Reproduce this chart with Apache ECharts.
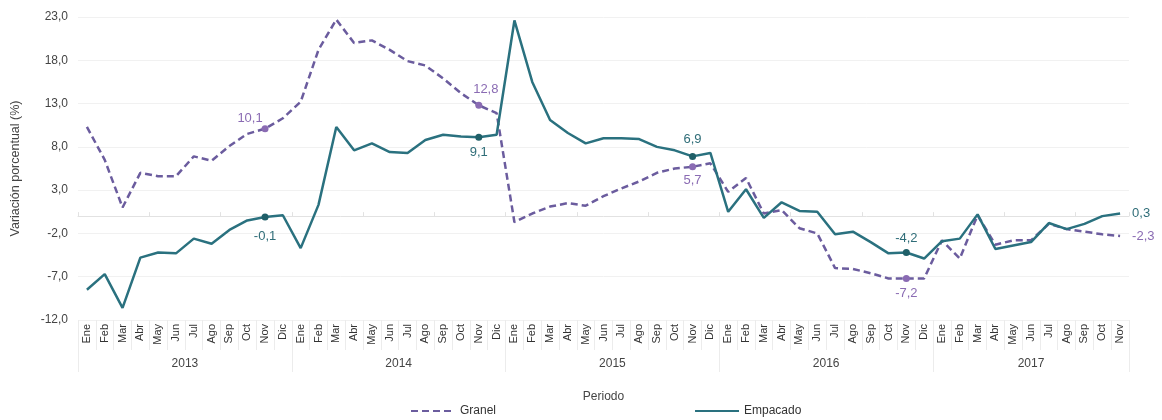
<!DOCTYPE html>
<html><head><meta charset="utf-8">
<script src="https://cdn.jsdelivr.net/npm/echarts@6/dist/echarts.min.js"></script>
<style>html,body{margin:0;padding:0;background:#fff}#c{width:1162px;height:420px}</style>
</head><body><div id="c"></div>
<script>
const years = ['2013', '2014', '2015', '2016', '2017'];
const monthsPerYear = [12, 12, 12, 12, 11];
const months = ['Ene','Feb','Mar','Abr','May','Jun','Jul','Ago','Sep','Oct','Nov','Dic'];

const granel = [
  10.3, 6.5, 1.0, 5.0, 4.6, 4.6, 6.9, 6.4, 8.1, 9.5, 10.1, 11.3,
  13.2, 19.2, 22.7, 20.0, 20.3, 19.2, 17.9, 17.4, 15.9, 14.2, 12.8, 11.9,
  -0.7, 0.3, 1.1, 1.5, 1.2, 2.3, 3.2, 4.0, 5.0, 5.5, 5.7, 6.1,
  2.8, 4.4, 0.3, 0.7, -1.4, -2.0, -6.0, -6.1, -6.6, -7.2, -7.2, -7.2,
  -2.8, -4.9, 0.1, -3.3, -2.8, -2.8, -0.9, -1.5, -1.8, -2.1, -2.3
];
const empacado = [
  -8.5, -6.7, -10.6, -4.8, -4.2, -4.3, -2.6, -3.2, -1.6, -0.5, -0.1, 0.1,
  -3.7, 1.3, 10.3, 7.6, 8.4, 7.4, 7.3, 8.8, 9.4, 9.2, 9.1, 9.4,
  22.6, 15.5, 11.1, 9.6, 8.4, 9.0, 9.0, 8.9, 8.0, 7.6, 6.9, 7.3,
  0.5, 3.1, -0.2, 1.6, 0.6, 0.5, -2.1, -1.8, -3.0, -4.3, -4.2, -4.9,
  -2.9, -2.6, 0.2, -3.8, -3.4, -3.0, -0.8, -1.5, -0.9, 0.0, 0.3
];
// labelled points (Nov of each year)
const labelIdx = [10, 22, 34, 46];
const granelLabelPos = ['top', 'top', 'bottom', 'bottom'];
const empacadoLabelPos = ['bottom', 'bottom', 'top', 'top'];

const yMin = -12, yMax = 23, yStep = 5;

// label placement tweaks (style, not data)
const granelLabelOffset = [[-15, 4], [7, -2], [0, 0], [0, 1]];
const empacadoLabelOffset = [[0, 5], [0, 1], [0, -3], [0, 0]];

const C_GRANEL = '#6b5c9e', C_GRANEL_LBL = '#8a6bb3';
const C_EMP = '#2a717f', C_EMP_LBL = '#2f6d78';

// categories
const cats = [];
years.forEach((y, k) => { for (let m = 0; m < monthsPerYear[k]; m++) cats.push(y + '-' + months[m]); });
// half-month slots for the year row
const starts = []; let acc = 0;
monthsPerYear.forEach(n => { starts.push(acc); acc += n; });
const total = acc;
const yearSlots = [];
for (let j = 0; j <= total * 2; j++) yearSlots.push('s' + j);
const yearCenters = {};
years.forEach((y, k) => { yearCenters[2 * starts[k] + monthsPerYear[k]] = y; });
const yearBounds = starts.map(s => 2 * s).concat([total * 2]);

const fmt = v => v.toFixed(1).replace('.', ',');
const lblFmt = p => fmt(p.value);

function build(vals, pos, offs, lcol) {
  return vals.map((v, i) => {
    const k = labelIdx.indexOf(i);
    if (k < 0) return v;
    return { value: v, symbol: 'circle', symbolSize: 7,
      label: { show: true, position: pos[k], distance: 4, offset: offs[k], color: lcol, fontSize: 13, formatter: lblFmt } };
  });
}

const chart = echarts.init(document.getElementById('c'));
chart.setOption({
  animation: false,
  textStyle: { fontFamily: 'Liberation Sans, Arial, sans-serif' },
  grid: { left: 78, right: 33, top: 17, bottom: 100, containLabel: false },
  legend: {
    left: 405, top: 400, itemWidth: 44, itemHeight: 14, itemGap: 198,
    itemStyle: { opacity: 0 },
    textStyle: { fontSize: 12, color: '#333' },
    data: ['Granel', 'Empacado']
  },
  xAxis: [
    {
      type: 'category', data: cats, position: 'bottom', boundaryGap: true,
      axisLine: { show: false, onZero: false },
      axisTick: { show: true, length: 30, lineStyle: { color: '#ececec' } },
      axisLabel: { rotate: 90, interval: 0, fontSize: 11, color: '#333', margin: 4,
        formatter: v => v.split('-')[1] }
    },
    {
      type: 'category', data: yearSlots, position: 'bottom', boundaryGap: false,
      axisLine: { show: false, onZero: false },
      axisTick: { show: true, length: 52, interval: i => yearBounds.indexOf(i) >= 0, lineStyle: { color: '#ececec' } },
      axisLabel: { interval: i => yearCenters[i] !== undefined, margin: 38, fontSize: 12, color: '#444',
        formatter: (v, i) => yearCenters[i] || '' },
      name: 'Periodo', nameLocation: 'middle', nameGap: 71,
      nameTextStyle: { fontSize: 12, color: '#444' }
    },
    {
      type: 'category', data: cats, boundaryGap: true,
      axisLine: { show: true, onZero: true, onZeroAxisIndex: 0, lineStyle: { color: '#e2e2e2' } },
      axisTick: { show: true, length: 4, lineStyle: { color: '#e2e2e2' } },
      axisLabel: { show: false }
    }
  ],
  yAxis: {
    type: 'value', min: yMin, max: yMax, interval: yStep,
    axisLine: { show: false }, axisTick: { show: false },
    axisLabel: { fontSize: 12, color: '#444', margin: 10, formatter: v => fmt(v) },
    splitLine: { lineStyle: { color: '#f1f1f1' } },
    name: 'Variación porcentual (%)', nameLocation: 'middle', nameGap: 56,
    nameTextStyle: { fontSize: 12.5, color: '#444' }
  },
  series: [
    {
      name: 'Granel', type: 'line', xAxisIndex: 0, symbol: 'none',
      data: build(granel, granelLabelPos, granelLabelOffset, C_GRANEL_LBL),
      lineStyle: { color: C_GRANEL, width: 2.5, type: [7, 4] },
      itemStyle: { color: C_GRANEL_LBL },
      endLabel: { show: true, formatter: lblFmt, color: C_GRANEL_LBL, fontSize: 13, distance: 12 },
      z: 3
    },
    {
      name: 'Empacado', type: 'line', xAxisIndex: 0, symbol: 'none',
      data: build(empacado, empacadoLabelPos, empacadoLabelOffset, C_EMP_LBL),
      lineStyle: { color: C_EMP, width: 2.5 },
      itemStyle: { color: '#1f5f68' },
      endLabel: { show: true, formatter: lblFmt, color: C_EMP_LBL, fontSize: 13, distance: 12 },
      z: 4
    }
  ]
});
</script>
</body></html>
